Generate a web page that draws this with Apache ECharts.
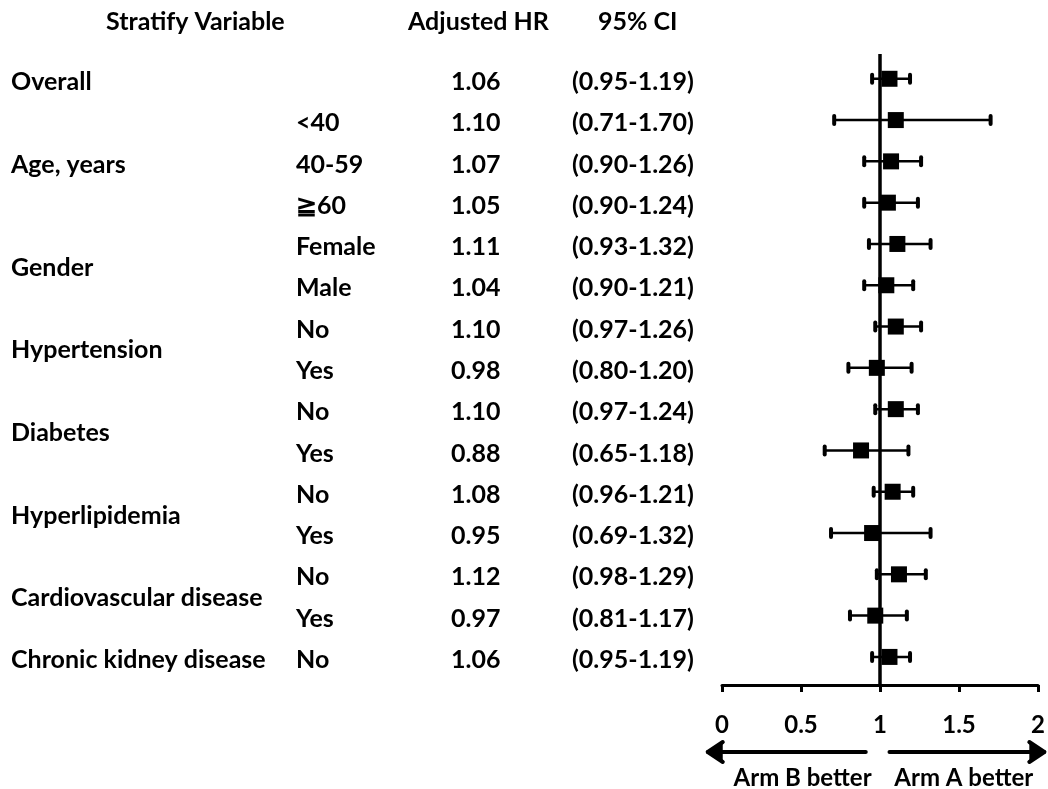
<!DOCTYPE html>
<html>
<head>
<meta charset="utf-8">
<script src="https://cdn.jsdelivr.net/npm/echarts@6/dist/echarts.min.js"></script>
<style>
  html, body { margin: 0; padding: 0; background: #fff; }
  #chart { width: 1048px; height: 789px; }
</style>
</head>
<body>
<div id="chart"></div>
<script>
// table columns
const headers = ['Stratify Variable', 'Adjusted HR', '95% CI']
const groups = ['Overall', 'Age, years', 'Gender', 'Hypertension', 'Diabetes', 'Hyperlipidemia', 'Cardiovascular disease', 'Chronic kidney disease']
const groupRows = [0, 2, 4.5, 6.5, 8.5, 10.5, 12.5, 14]
const subgroups = ['', '<40', '40-59', '≧60', 'Female', 'Male', 'No', 'Yes', 'No', 'Yes', 'No', 'Yes', 'No', 'Yes', 'No']

// hazard ratios with 95% CI
const hr = [1.06, 1.10, 1.07, 1.05, 1.11, 1.04, 1.10, 0.98, 1.10, 0.88, 1.08, 0.95, 1.12, 0.97, 1.06]
const ciLow = [0.95, 0.71, 0.90, 0.90, 0.93, 0.90, 0.97, 0.80, 0.97, 0.65, 0.96, 0.69, 0.98, 0.81, 0.95]
const ciHigh = [1.19, 1.70, 1.26, 1.24, 1.32, 1.21, 1.26, 1.20, 1.24, 1.18, 1.21, 1.32, 1.29, 1.17, 1.19]

const xTicks = [0, 0.5, 1, 1.5, 2]
const directionLabels = ['Arm B better', 'Arm A better']
const directionArrows = [[0.91, -0.09], [1.06, 2.04]]
const directionCenters = [0.51, 1.53]

const FONT = 'bold 25px Lato, "Open Sans", sans-serif'

// column positions in the table grid (pixels)
const colGroup = 11, colSub = 296, colHR = 451, colCI = 572
const headerX = [106, 408, 598]
const headerRow = -1.45

const rows = hr.map((_, i) => i)

// text items for the table: [x, row, text]
const tableText = []
headers.forEach((h, i) => tableText.push([headerX[i], headerRow, h]))
groups.forEach((g, i) => tableText.push([colGroup, groupRows[i], g]))
rows.forEach(i => {
  if (subgroups[i]) tableText.push([colSub, i, subgroups[i]])
  tableText.push([colHR, i, hr[i].toFixed(2)])
  tableText.push([colCI, i, '(' + ciLow[i].toFixed(2) + '-' + ciHigh[i].toFixed(2) + ')'])
})

const chart = echarts.init(document.getElementById('chart'))
chart.setOption({
  animation: false,
  backgroundColor: '#fff',
  grid: [
    { left: 722, right: 10, top: 54, bottom: 104 },
    { left: 0, width: 720, top: 0, bottom: 104 },
    { left: 722, right: 10, top: 735, bottom: 0 }
  ],
  xAxis: [
    {
      gridIndex: 0,
      type: 'value',
      min: xTicks[0],
      max: xTicks[xTicks.length - 1],
      interval: 0.5,
      axisLine: { show: true, onZero: false, lineStyle: { color: '#000', width: 3 } },
      axisTick: { show: true, length: 7, lineStyle: { color: '#000', width: 3 } },
      splitLine: { show: false },
      axisLabel: {
        color: '#000',
        fontSize: 24,
        fontWeight: 'bold',
        fontFamily: 'Lato, sans-serif',
        margin: 28,
        formatter: v => String(v)
      }
    },
    { gridIndex: 1, type: 'value', min: 0, max: 720, show: false },
    { gridIndex: 2, type: 'value', min: 0, max: 2, show: false }
  ],
  yAxis: [
    { gridIndex: 0, type: 'value', min: -0.6, max: 14.68, inverse: true, show: false },
    { gridIndex: 1, type: 'value', min: -1.913, max: 14.68, inverse: true, show: false },
    { gridIndex: 2, type: 'value', min: 0, max: 1, inverse: true, show: false }
  ],
  series: [
    {
      // error bars
      type: 'custom',
      xAxisIndex: 0,
      yAxisIndex: 0,
      data: rows.map(i => [ciLow[i], ciHigh[i], i]),
      renderItem: function (params, api) {
        const lo = api.coord([api.value(0), api.value(2)])
        const hi = api.coord([api.value(1), api.value(2)])
        const capH = 4
        const capStyle = { stroke: '#000', lineWidth: 4, lineCap: 'round' }
        return {
          type: 'group',
          children: [
            { type: 'line', shape: { x1: lo[0], y1: lo[1], x2: hi[0], y2: hi[1] }, style: { stroke: '#000', lineWidth: 2.5 } },
            { type: 'line', shape: { x1: lo[0], y1: lo[1] - capH, x2: lo[0], y2: lo[1] + capH }, style: capStyle },
            { type: 'line', shape: { x1: hi[0], y1: hi[1] - capH, x2: hi[0], y2: hi[1] + capH }, style: capStyle }
          ]
        }
      },
      z: 2
    },
    {
      // point estimates
      type: 'scatter',
      xAxisIndex: 0,
      yAxisIndex: 0,
      symbol: 'rect',
      symbolSize: [16, 16],
      itemStyle: { color: '#000', opacity: 1 },
      data: rows.map(i => [hr[i], i]),
      markLine: {
        silent: true,
        symbol: 'none',
        label: { show: false },
        lineStyle: { color: '#000', width: 3.5, type: 'solid' },
        data: [{ xAxis: 1 }]
      },
      z: 3
    },
    {
      // table text
      type: 'custom',
      xAxisIndex: 1,
      yAxisIndex: 1,
      data: tableText,
      renderItem: function (params, api) {
        const p = api.coord([api.value(0), api.value(1)])
        return {
          type: 'text',
          x: p[0],
          y: p[1] + 3,
          style: {
            text: tableText[params.dataIndex][2],
            fill: '#000',
            font: FONT,
            align: 'left',
            verticalAlign: 'middle'
          }
        }
      }
    },
    {
      // direction arrows
      type: 'custom',
      xAxisIndex: 2,
      yAxisIndex: 2,
      data: directionArrows,
      renderItem: function (params, api) {
        const a = api.coord([api.value(0), 0.315])
        const b = api.coord([api.value(1), 0.315])
        const dir = b[0] > a[0] ? 1 : -1
        const style = { stroke: '#000', lineWidth: 4, lineCap: 'round', lineJoin: 'round' }
        return {
          type: 'group',
          children: [
            { type: 'line', shape: { x1: a[0], y1: a[1], x2: b[0], y2: b[1] }, style: style },
            { type: 'polyline', shape: { points: [[b[0] - dir * 15, b[1] - 10], [b[0], b[1]], [b[0] - dir * 15, b[1] + 10]] }, style: style }
          ]
        }
      }
    },
    {
      // direction labels
      type: 'custom',
      xAxisIndex: 2,
      yAxisIndex: 2,
      data: directionCenters.map(c => [c]),
      renderItem: function (params, api) {
        const p = api.coord([api.value(0), 0.8])
        return {
          type: 'text',
          x: p[0],
          y: p[1],
          style: {
            text: directionLabels[params.dataIndex],
            fill: '#000',
            font: 'bold 24px Lato, sans-serif',
            align: 'center',
            verticalAlign: 'middle'
          }
        }
      }
    }
  ]
})
</script>
</body>
</html>
